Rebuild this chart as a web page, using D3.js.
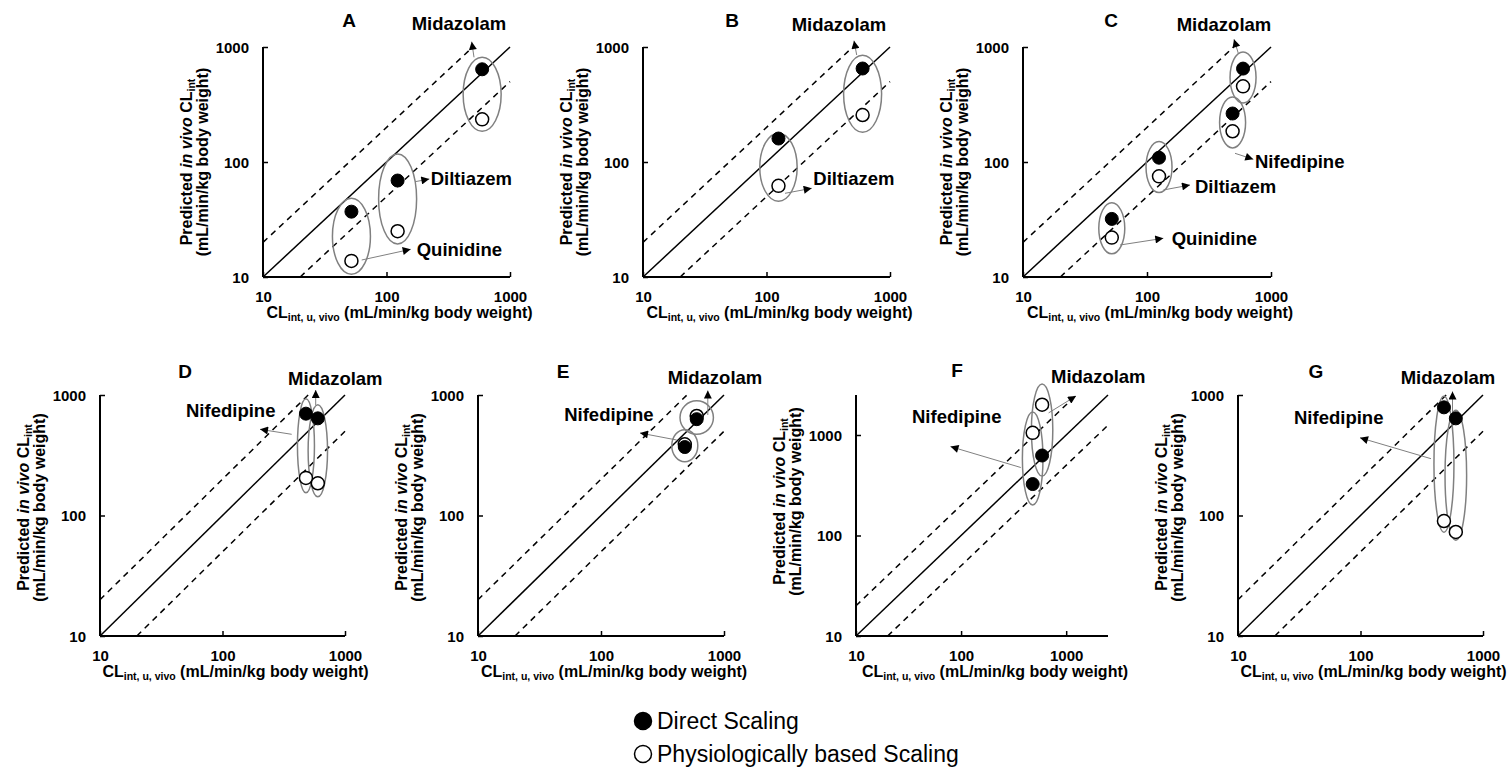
<!DOCTYPE html>
<html>
<head>
<meta charset="utf-8">
<script src="https://cdn.jsdelivr.net/npm/d3@7"></script>
<style>
  body { margin: 0; background: #fff; }
  svg { font-family: "Liberation Sans", Arial, sans-serif; }
</style>
</head>
<body>
<svg id="chart" width="1510" height="774"></svg>
<script>
// ---- data ----
var drugsA = ["Quinidine", "Diltiazem", "Midazolam"];
var observedA = [52, 123, 595];
var directA = [37, 69, 640];
var pbsA = [13.8, 25, 235];

var drugsB = ["Diltiazem", "Midazolam"];
var observedB = [125, 600];
var directB = [160, 650];
var pbsB = [62, 256];

var drugsC = ["Quinidine", "Diltiazem", "Nifedipine", "Midazolam"];
var observedC = [52, 125, 490, 595];
var directC = [32, 109, 264, 649];
var pbsC = [22, 75, 185, 455];

var drugsD = ["Nifedipine", "Midazolam"];
var observedD = [480, 600];
var directD = [700, 640];
var pbsD = [205, 185];

var drugsE = ["Nifedipine", "Midazolam"];
var observedE = [480, 600];
var directE = [370, 630];
var pbsE = [390, 670];

var drugsF = ["Nifedipine", "Midazolam"];
var observedF = [480, 590];
var directF = [325, 625];
var pbsF = [1050, 2000];

var drugsG = ["Nifedipine", "Midazolam"];
var observedG = [480, 600];
var directG = [790, 640];
var pbsG = [90, 73];

var panelIds = ["A", "B", "C", "D", "E", "F", "G"];
var axisMax = [1000, 1000, 1000, 1000, 1000, 2500, 1000];
var tickValues = [10, 100, 1000];
var legendLabels = ["Direct Scaling", "Physiologically based Scaling"];

// ---- layout ----
var boxes = [
  {left: 263, top: 47, w: 247, h: 230, titleDy: 0},
  {left: 643, top: 47, w: 247, h: 230, titleDy: 0},
  {left: 1023, top: 47, w: 248, h: 230, titleDy: 0},
  {left: 100, top: 395, w: 245, h: 241, titleDy: -8},
  {left: 478, top: 395, w: 246, h: 241, titleDy: -8},
  {left: 856, top: 395, w: 252, h: 241, titleDy: -14},
  {left: 1238, top: 395, w: 245, h: 241, titleDy: -8}
];
var letterPos = [[86, -27], [89, -27], [88, -27], [85, -24], [85, -24], [101, -25], [78, -24]];

// annotations: ellipse size, label spot, arrow (all in px, local to the plot box)
var notes = [
  {
    Quinidine: {rx: 19, ry: 38, dy: 0, label: [153.7, 203], from: [98.7, 213], tip: [147.7, 202.3]},
    Diltiazem: {rx: 19, ry: 45, dy: -7, label: [167.7, 132], from: [152, 134.7], tip: [166.3, 132]},
    Midazolam: {rx: 19, ry: 37, dy: 0, label: [196, -23], anchor: "middle", from: [211, 10.3], tip: [208.7, -5.3]}
  },
  {
    Diltiazem: {rx: 18.7, ry: 34, dy: 5, label: [170.3, 131.3], from: [142, 146.3], tip: [168.7, 141.3]},
    Midazolam: {rx: 19, ry: 38.5, dy: 2, label: [196, -22], anchor: "middle", from: [213.7, 8], tip: [211, -6.3]}
  },
  {
    Quinidine: {rx: 13, ry: 25.5, dy: 0, label: [148.7, 191.3], from: [97, 198], tip: [140.3, 191.3]},
    Diltiazem: {rx: 13, ry: 25.5, dy: 0, label: [172, 139.7], from: [140.3, 143], tip: [167, 138]},
    Nifedipine: {rx: 13, ry: 25.5, dy: 0, label: [232, 114.7], from: [212, 106.3], tip: [230.3, 112.3]},
    Midazolam: {rx: 13, ry: 25.5, dy: 0, label: [201, -22], anchor: "middle", from: [215.3, 6.3], tip: [211, -7.7]}
  },
  {
    Nifedipine: {rx: 8.5, ry: 47, dy: 0, label: [86, 16], from: [191.7, 39.3], tip: [160, 34.3]},
    Midazolam: {rx: 9.7, ry: 46, dy: 0, label: [188, -16], from: [215.7, 10], tip: [215.7, -5]}
  },
  {
    Nifedipine: {rx: 13, ry: 16, dy: 0, label: [86.2, 20], from: [198.7, 45], tip: [162, 38]},
    Midazolam: {rx: 16.7, ry: 16.7, dy: 0, label: [189.7, -17], from: [229.8, 20], tip: [229.8, -4.4]}
  },
  {
    Nifedipine: {rx: 10.3, ry: 46.5, dy: 0, label: [56, 22], from: [164.8, 72.5], tip: [94.5, 51.6]},
    Midazolam: {rx: 10.7, ry: 46, dy: 0, label: [195, -18], from: [192.6, 17.9], tip: [220, 1]}
  },
  {
    Nifedipine: {rx: 10, ry: 68, dy: 0, label: [56, 23], from: [193, 63.7], tip: [122, 42.8]},
    Midazolam: {rx: 10.8, ry: 65, dy: 0, label: [162.7, -17], from: [214.5, 19], tip: [214.5, -3.5]}
  }
];

var panelData = [
  [drugsA, observedA, directA, pbsA],
  [drugsB, observedB, directB, pbsB],
  [drugsC, observedC, directC, pbsC],
  [drugsD, observedD, directD, pbsD],
  [drugsE, observedE, directE, pbsE],
  [drugsF, observedF, directF, pbsF],
  [drugsG, observedG, directG, pbsG]
];

var svg = d3.select("#chart");

svg.append("defs").append("marker")
  .attr("id", "head")
  .attr("viewBox", "0 0 10 10")
  .attr("refX", 10).attr("refY", 5)
  .attr("markerWidth", 9).attr("markerHeight", 8)
  .attr("markerUnits", "userSpaceOnUse")
  .attr("orient", "auto")
  .append("path")
  .attr("d", "M0,0 L10,5 L0,10 Z")
  .attr("fill", "#000");

for (var p = 0; p < panelIds.length; p++) {
  var box = boxes[p];
  var max = axisMax[p];
  var drugs = panelData[p][0], obs = panelData[p][1], dir = panelData[p][2], pbs = panelData[p][3];

  var x = d3.scaleLog().domain([10, max]).range([0, box.w]);
  var y = d3.scaleLog().domain([10, max]).range([box.h, 0]);

  var g = svg.append("g").attr("transform", "translate(" + box.left + "," + box.top + ")");

  // unity line and 2-fold lines
  var lineGen = d3.line().x(function(d) { return x(d[0]); }).y(function(d) { return y(d[1]); });
  g.append("path").attr("d", lineGen([[10, 10], [max, max]]))
    .attr("stroke", "#000").attr("stroke-width", 1.5).attr("fill", "none");
  g.append("path").attr("d", lineGen([[10, 20], [max / 2, max]]))
    .attr("stroke", "#000").attr("stroke-width", 1.5).attr("stroke-dasharray", "6,5").attr("fill", "none");
  g.append("path").attr("d", lineGen([[20, 10], [max, max / 2]]))
    .attr("stroke", "#000").attr("stroke-width", 1.5).attr("stroke-dasharray", "6,5").attr("fill", "none");

  // axes
  var xAxis = d3.axisBottom(x).tickValues(tickValues).tickSize(-5).tickFormat(d3.format("d"));
  var yAxis = d3.axisLeft(y).tickValues(tickValues).tickSize(-5).tickFormat(d3.format("d"));
  var gx = g.append("g").attr("transform", "translate(0," + box.h + ")").call(xAxis);
  var gy = g.append("g").call(yAxis);
  [gx, gy].forEach(function(a) {
    a.select(".domain").attr("stroke", "#000").attr("stroke-width", 2)
      .attr("d", a === gx ? "M0,0H" + box.w : "M0,0V" + box.h);
    a.selectAll(".tick line").attr("stroke", "#000").attr("stroke-width", 1.5);
    a.selectAll(".tick text").attr("fill", "#000").attr("font-size", 15).attr("font-weight", "bold")
      .attr("font-family", "Liberation Sans, Arial, sans-serif");
  });
  gx.selectAll(".tick text").attr("y", 14).attr("dy", "0.71em");
  gy.selectAll(".tick text").attr("x", -14).attr("dy", "0.35em");
  // ticks point inward
  gx.selectAll(".tick line").attr("y2", -5);
  gy.selectAll(".tick line").attr("x2", 5);

  // axis titles
  var xt = g.append("text").attr("x", box.w / 2 + 13).attr("y", box.h + 41)
    .attr("text-anchor", "middle").attr("font-size", 16).attr("font-weight", "bold");
  xt.append("tspan").text("CL");
  xt.append("tspan").attr("font-size", 10.5).attr("dy", 3).text("int, u, vivo");
  xt.append("tspan").attr("dy", -3).text(" (mL/min/kg body weight)");

  var cy = box.h / 2 + box.titleDy;
  var yt1 = g.append("text").attr("transform", "translate(-71," + cy + ") rotate(-90)")
    .attr("text-anchor", "middle").attr("font-size", 16).attr("font-weight", "bold");
  yt1.append("tspan").text("Predicted ");
  yt1.append("tspan").attr("font-style", "italic").text("in vivo");
  yt1.append("tspan").text(" CL");
  yt1.append("tspan").attr("font-size", 10.5).attr("dy", 3).text("int");
  g.append("text").attr("transform", "translate(-55," + cy + ") rotate(-90)")
    .attr("text-anchor", "middle").attr("font-size", 16).attr("font-weight", "bold")
    .text("(mL/min/kg body weight)");

  // panel letter
  g.append("text").attr("x", letterPos[p][0]).attr("y", letterPos[p][1]).attr("dy", "0.35em")
    .attr("text-anchor", "middle").attr("font-size", 19).attr("font-weight", "bold").text(panelIds[p]);

  var rows = drugs.map(function(name, i) {
    return {name: name, obs: obs[i], direct: dir[i], pbs: pbs[i], note: notes[p][name]};
  });

  // ellipses around each drug's pair
  g.selectAll("ellipse.grp").data(rows).enter().append("ellipse")
    .attr("cx", function(d) { return x(d.obs); })
    .attr("cy", function(d) { return (y(d.direct) + y(d.pbs)) / 2 + d.note.dy; })
    .attr("rx", function(d) { return d.note.rx; })
    .attr("ry", function(d) { return d.note.ry; })
    .attr("fill", "none").attr("stroke", "#808080").attr("stroke-width", 1.5);

  // arrows
  g.selectAll("line.arrow").data(rows).enter().append("line")
    .attr("x1", function(d) { return d.note.from[0]; })
    .attr("y1", function(d) { return d.note.from[1]; })
    .attr("x2", function(d) { return d.note.tip[0]; })
    .attr("y2", function(d) { return d.note.tip[1]; })
    .attr("stroke", "#808080").attr("stroke-width", 1)
    .attr("marker-end", "url(#head)");

  // points: physiologically based (open) under direct (filled)
  g.selectAll("circle.pbs").data(rows).enter().append("circle")
    .attr("cx", function(d) { return x(d.obs); })
    .attr("cy", function(d) { return y(d.pbs); })
    .attr("r", 6.5).attr("fill", "#fff").attr("stroke", "#000").attr("stroke-width", 1.5);
  g.selectAll("circle.direct").data(rows).enter().append("circle")
    .attr("cx", function(d) { return x(d.obs); })
    .attr("cy", function(d) { return y(d.direct); })
    .attr("r", 6.5).attr("fill", "#000").attr("stroke", "#000").attr("stroke-width", 1);

  // drug labels
  g.selectAll("text.drug").data(rows).enter().append("text")
    .attr("x", function(d) { return d.note.label[0]; })
    .attr("y", function(d) { return d.note.label[1]; })
    .attr("dy", "0.35em")
    .attr("text-anchor", function(d) { return d.note.anchor || "start"; })
    .attr("font-size", 18.5).attr("font-weight", "bold")
    .text(function(d) { return d.name; });
}

// legend
var legend = svg.append("g").attr("transform", "translate(643,721)");
legendLabels.forEach(function(label, i) {
  legend.append("circle").attr("cx", 0).attr("cy", i * 33).attr("r", 8.5)
    .attr("fill", i === 0 ? "#000" : "#fff").attr("stroke", "#000").attr("stroke-width", 1.5);
  legend.append("text").attr("x", 14).attr("y", i * 33).attr("dy", "0.35em")
    .attr("font-size", 23).text(label);
});
</script>
</body>
</html>
